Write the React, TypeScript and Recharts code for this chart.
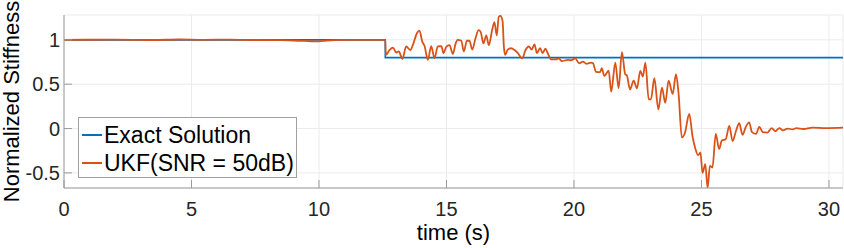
import { LineChart, Line, XAxis, YAxis, CartesianGrid, Legend, Label } from 'recharts';

const FONT = '"Liberation Sans", Arial, Helvetica, sans-serif';
const BLUE = '#0072BD';
const ORANGE = '#D95319';

const xTicks = [0, 5, 10, 15, 20, 25, 30];
const yTicks = [-0.5, 0, 0.5, 1];

const exactTime = [0, 12.6, 12.6, 30.55];
const exactValue = [1, 1, 0.8, 0.8];

const ukfTime = [
  0, 2, 3.5, 4.5, 5.5, 6.5, 7.5, 8.5, 9.2, 9.6, 10.0, 10.3, 11, 12.6,
  12.62, 12.77, 12.9, 13.03, 13.13, 13.27, 13.42, 13.58, 13.68, 13.84, 13.94,
  14.05, 14.14, 14.27, 14.4, 14.53, 14.66, 14.8, 14.88, 14.99, 15.12, 15.25,
  15.36, 15.44, 15.58, 15.68, 15.8, 15.9, 16.01, 16.14, 16.26, 16.34, 16.45,
  16.56, 16.66, 16.79, 16.88, 16.97, 17.05, 17.12, 17.2, 17.25, 17.3, 17.4,
  17.53, 17.67, 17.8, 17.97, 18.1, 18.23, 18.34, 18.45, 18.55, 18.67, 18.77,
  18.88, 18.97, 19.1, 19.3, 19.4, 19.53, 19.75, 19.9, 20.05, 20.2, 20.35,
  20.49, 20.68, 20.75, 20.86, 21.02, 21.09, 21.19, 21.36, 21.46, 21.62, 21.75,
  21.88, 22.01, 22.07, 22.2, 22.34, 22.47, 22.6, 22.7, 22.8, 22.93, 23.02,
  23.15, 23.31, 23.45, 23.58, 23.71, 23.87, 24.0, 24.1, 24.23, 24.35, 24.52,
  24.65, 24.75, 24.87, 24.96, 25.04, 25.15, 25.24, 25.33, 25.43, 25.56, 25.69,
  25.8, 25.95, 26.09, 26.22, 26.35, 26.48, 26.61, 26.74, 26.87, 26.98, 27.14,
  27.27, 27.4, 27.59, 27.75, 27.9, 28.05, 28.2, 28.37, 28.57, 28.72, 29.0,
  29.35, 29.87, 30.55,
];
const ukfValue = [
  1, 1.002, 0.998, 1.004, 1.0, 1.003, 0.998, 0.996, 0.99, 0.985, 0.982, 0.992, 1, 1,
  0.83, 0.887, 0.913, 0.857, 0.87, 0.785, 0.925, 0.885, 0.94, 1.075, 1.105,
  0.98, 0.93, 0.774, 0.93, 0.793, 0.925, 0.93, 0.85, 0.92, 0.94, 0.84,
  0.96, 1.0, 0.99, 0.87, 0.99, 0.99, 0.89, 1.02, 1.11, 1.09, 0.96,
  1.05, 0.94, 1.11, 1.2, 1.05, 1.26, 1.27, 1.21, 0.925, 0.83, 0.89,
  0.905, 0.885, 0.85, 0.79, 0.885, 0.925, 0.89, 0.95, 0.85, 0.905, 0.85,
  0.9, 0.85, 0.78, 0.78, 0.79, 0.76, 0.774, 0.77, 0.79, 0.736, 0.755,
  0.73, 0.744, 0.735, 0.64, 0.635, 0.68, 0.593, 0.653, 0.416, 0.744, 0.454,
  0.86, 0.612, 0.6, 0.44, 0.54, 0.454, 0.65, 0.586, 0.744, 0.33, 0.33,
  0.567, 0.216, 0.46, 0.29, 0.54, 0.39, 0.612, 0.4, -0.1, -0.05, 0.164,
  -0.09, -0.215, -0.3, -0.27, -0.5, -0.4, -0.67, -0.42, -0.44, -0.06, -0.23,
  -0.135, -0.12, 0.03, -0.14, -0.03, 0.06, -0.07, 0.02, 0.07, -0.04, -0.06,
  0.02, -0.04, -0.045, 0.005, -0.03, 0.005, -0.02, 0.0, -0.01, 0.005, -0.005,
  0.01, 0.005, 0.01,
];

const exactData = exactTime.map((t, i) => ({ t, v: exactValue[i] }));
const ukfData = ukfTime.map((t, i) => ({ t, v: ukfValue[i] }));

const tickStyle = { fill: '#262626', fontSize: 20, fontFamily: FONT };

function LegendBox(props: any) {
  const items = props.payload || [];
  return (
    <div
      style={{
        boxSizing: 'border-box',
        width: 219,
        height: 61,
        border: '1px solid #a0a0a0',
        background: '#fff',
        padding: '3px 0 0 3px',
        fontFamily: FONT,
        fontSize: 23,
        color: '#000',
      }}
    >
      {items.map((it: any) => (
        <div key={it.value} style={{ display: 'flex', alignItems: 'center', height: 28 }}>
          <div style={{ width: 20, height: 2, background: it.color, marginRight: 2 }} />
          <span style={{ whiteSpace: 'nowrap' }}>{it.value}</span>
        </div>
      ))}
    </div>
  );
}

export default function App() {
  return (
    <div style={{ position: 'absolute', left: 0, top: 0, width: 844, height: 248, background: '#fff' }}>
      <LineChart width={844} height={248} margin={{ top: 15, right: 1, bottom: 0, left: 0 }}>
        <CartesianGrid stroke="#ebebeb" strokeWidth={1} />
        <XAxis
          dataKey="t"
          type="number"
          domain={[0, 30.55]}
          ticks={xTicks}
          allowDataOverflow
          height={60}
          stroke="#9a9a9a"
          tickSize={-8}
          tickMargin={22}
          tick={tickStyle}
        >
          <Label
            value="time (s)"
            position="insideBottom"
            offset={8}
            style={{ fill: '#000', fontSize: 22, fontFamily: FONT }}
          />
        </XAxis>
        <XAxis xAxisId="top" orientation="top" dataKey="t" type="number" domain={[0, 30.55]} ticks={xTicks} height={0} stroke="#9a9a9a" tickSize={-8} tick={false} />
        <YAxis
          dataKey="v"
          type="number"
          domain={[-0.67, 1.28]}
          ticks={yTicks}
          allowDataOverflow
          width={64}
          stroke="#9a9a9a"
          tickSize={-8}
          tickMargin={12}
          tick={tickStyle}
        >
          <Label
            content={(p: any) => {
              const vb = p.viewBox || {};
              const cx = 11;
              const cy = vb.y + vb.height / 2;
              return (
                <text
                  x={cx}
                  y={cy}
                  transform={`rotate(-90 ${cx} ${cy})`}
                  textAnchor="middle"
                  dominantBaseline="central"
                  style={{ fill: '#000', fontSize: 22, fontFamily: FONT }}
                >
                  Normalized Stiffness
                </text>
              );
            }}
          />
        </YAxis>
        <YAxis yAxisId="right" orientation="right" type="number" domain={[-0.67, 1.28]} ticks={yTicks} width={0} stroke="#9a9a9a" tickSize={-8} tick={false} />
        <Legend
          verticalAlign="middle"
          align="center"
          content={<LegendBox />}
          wrapperStyle={{ left: 78, top: 117, width: 219, height: 61 }}
        />
        <Line
          data={exactData}
          dataKey="v"
          name="Exact Solution"
          type="linear"
          stroke={BLUE}
          strokeWidth={1.6}
          dot={false}
          isAnimationActive={false}
        />
        <Line
          data={ukfData}
          dataKey="v"
          name="UKF(SNR = 50dB)"
          type="monotone"
          stroke={ORANGE}
          strokeWidth={1.8}
          dot={false}
          isAnimationActive={false}
        />
      </LineChart>
    </div>
  );
}
